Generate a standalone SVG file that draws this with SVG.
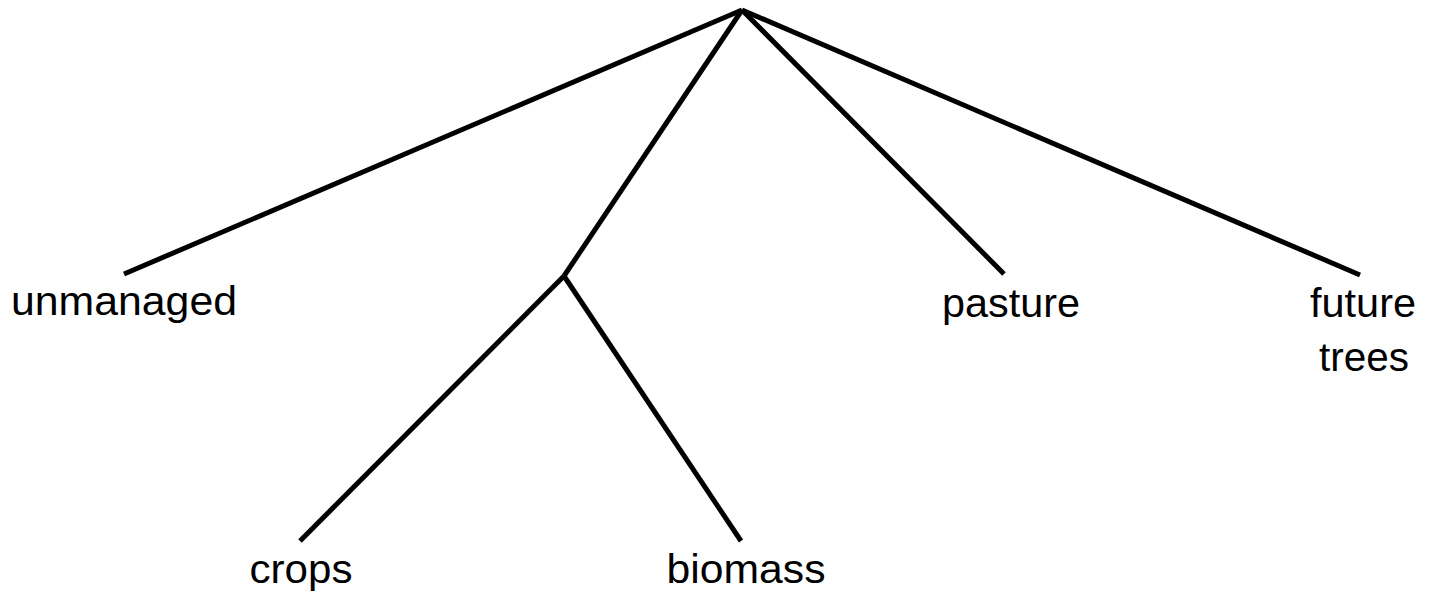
<svg xmlns="http://www.w3.org/2000/svg" width="1431" height="594" viewBox="0 0 1431 594">
<style>
.edge{stroke:#000;stroke-width:5;fill:none;stroke-linecap:butt}
.lbl{font-family:"Liberation Sans",Arial,sans-serif;font-size:40px;fill:#000;text-anchor:middle}
</style>
<rect width="1431" height="594" fill="#fff"/>
<g id="connectors">
<line class="edge" x1="742" y1="10" x2="124" y2="274"/>
<line class="edge" x1="742" y1="10" x2="564" y2="276"/>
<line class="edge" x1="742" y1="10" x2="1004" y2="274"/>
<line class="edge" x1="742" y1="10" x2="1360" y2="275"/>
<line class="edge" x1="564" y1="276" x2="300" y2="541"/>
<line class="edge" x1="564" y1="276" x2="741" y2="541"/>
</g>
<g id="node-unmanaged"><text class="lbl" x="124" y="315" textLength="226" lengthAdjust="spacingAndGlyphs">unmanaged</text></g>
<g id="node-pasture"><text class="lbl" x="1011" y="317" textLength="138" lengthAdjust="spacingAndGlyphs">pasture</text></g>
<g id="node-future-trees"><text class="lbl" x="1363" y="317" textLength="106" lengthAdjust="spacingAndGlyphs">future</text><text class="lbl" x="1364" y="371" textLength="90" lengthAdjust="spacingAndGlyphs">trees</text></g>
<g id="node-crops"><text class="lbl" x="301" y="583" textLength="103" lengthAdjust="spacingAndGlyphs">crops</text></g>
<g id="node-biomass"><text class="lbl" x="746" y="583" textLength="159" lengthAdjust="spacingAndGlyphs">biomass</text></g>
</svg>
